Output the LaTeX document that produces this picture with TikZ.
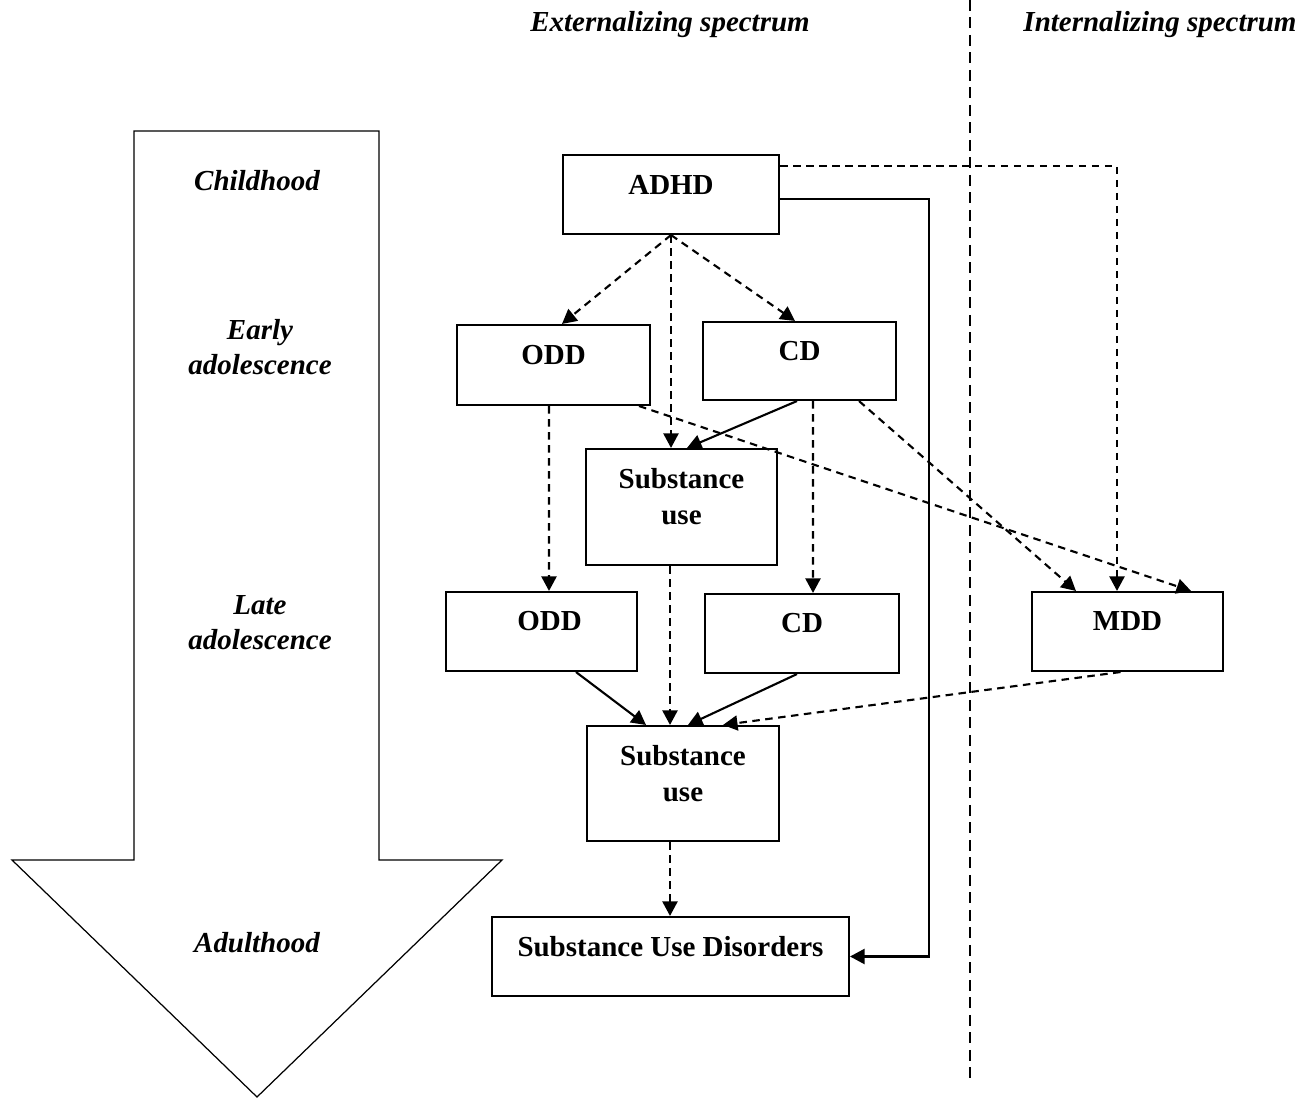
\documentclass[tikz,border=0pt]{standalone}
\usepackage{fontspec}
\setmainfont{Liberation Serif}
\usetikzlibrary{arrows.meta,calc}
\tikzset{
  dbox/.style = {draw=black, line width=1.2pt, rectangle, inner sep=0pt,
    minimum width=3.84cm, minimum height=1.58cm},% disorder box
  dbox_t/.style = {font=\fontsize{16.5}{20.5}\selectfont\bfseries,
    align=center, yshift=0.2cm},% text in a disorder box
  age/.style = {font=\fontsize{16.5}{20}\selectfont\bfseries\itshape,
    align=center},% age and spectrum labels
  link/.style = {line width=1.2pt, ->},% solid path
  dlink/.style = {link, dash pattern=on 0.15cm off 0.11cm}% dashed path
}
\begin{document}
\begin{tikzpicture}[x=0.02cm, y=-0.02cm,
                    >={Triangle[length=0.29cm,width=0.3cm]}]
  \useasboundingbox (0,0) rectangle (1316,1098);
  % time arrow
  \draw[line width=0.7pt] (134,131) -- (379,131) -- (379,860) -- (502,860)
    -- (257,1097) -- (12,860) -- (134,860) -- cycle;
  \node [age] (childhood) at (257,181) {Childhood};
  \node [age] (early) at (260,347.5) {Early\\adolescence};
  \node [age] (late) at (260,622.5) {Late\\adolescence};
  \node [age] (adulthood) at (257,943) {Adulthood};
  % spectra
  \node [age] (ext) at (670,25) {Externalizing spectrum};
  \node [age] (int) at (1160,25) {Internalizing spectrum};
  \draw[line width=1.2pt, dash pattern=on 0.22cm off 0.13cm] (970,0) -- (970,1080);
  % disorders
  \node [dbox, minimum width=4.32cm, label={[dbox_t]center:ADHD}] (adhd) at (671,194.5) {};
  \node [dbox, minimum width=3.86cm, minimum height=1.6cm,
         label={[dbox_t]center:ODD}] (odd_e) at (553.5,365) {};
  \node [dbox, minimum width=3.86cm, minimum height=1.56cm,
         label={[dbox_t]center:CD}] (cd_e) at (799.5,361) {};
  \node [dbox, minimum width=3.82cm, minimum height=2.32cm,
         label={[dbox_t]center:Substance\\use}] (su_e) at (681.5,507) {};
  \node [dbox, minimum width=3.82cm,
         label={[dbox_t, xshift=0.16cm]center:ODD}] (odd_l) at (541.5,631.5) {};
  \node [dbox, minimum width=3.88cm, label={[dbox_t]center:CD}] (cd_l) at (802,633.5) {};
  \node [dbox, minimum width=3.82cm, label={[dbox_t]center:MDD}] (mdd) at (1127.5,631.5) {};
  \node [dbox, minimum height=2.3cm,
         label={[dbox_t]center:Substance\\use}] (su_l) at (683,783.5) {};
  \node [dbox, minimum width=7.14cm,
         label={[dbox_t]center:Substance Use Disorders}] (sud) at (670.5,956.5) {};
  \coordinate (rt) at (929,0);
  % paths
  \draw[dlink] ($(adhd.east)+(0,-28.5)$) -| ($(mdd.north)+(-10.5,0)$);
  \draw[link] ($(adhd.east)+(0,4.5)$) -| (rt |- sud.east) -- (sud.east);
  \draw[dlink] (adhd.south) -- ($(odd_e.north)+(8.5,0)$);
  \draw[dlink] (adhd.south) -- ($(cd_e.north)+(-4.5,0)$);
  \draw[dlink] (adhd.south) -- (adhd.south |- su_e.north);
  \draw[link] ($(cd_e.south)+(-2.5,0)$) -- ($(su_e.north)+(5.5,0)$);
  \draw[dlink] ($(odd_e.south east)+(-12,0)$) -- ($(mdd.north east)+(-33,0)$);
  \draw[dlink] ($(cd_e.south east)+(-38,0)$) -- ($(mdd.north west)+(45,0)$);
  \draw[dlink] ($(cd_e.south)+(13.5,0)$) -- ($(cd_l.north)+(11,0)$);
  \draw[dlink] ($(odd_e.south)+(-4.5,0)$) -- ($(odd_l.north)+(7.5,0)$);
  \draw[dlink] ($(su_e.south)+(-11.5,0)$) -- ($(su_l.north)+(-13,0)$);
  \draw[link] ($(odd_l.south)+(34.5,0)$) -- ($(su_l.north)+(-37,0)$);
  \draw[link] ($(cd_l.south)+(-5,0)$) -- ($(su_l.north)+(5,0)$);
  \draw[dlink] ($(mdd.south)+(-7,0)$) -- ($(su_l.north east)+(-57,0)$);
  \draw[dlink] ($(su_l.south)+(-13,0)$) -- ($(sud.north)+(-0.5,0)$);
\end{tikzpicture}
\end{document}
